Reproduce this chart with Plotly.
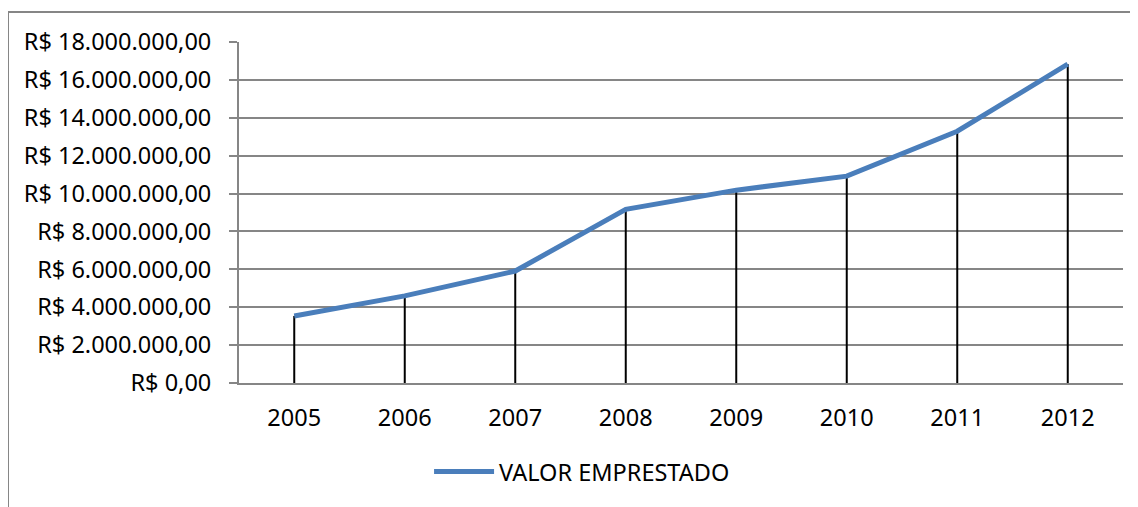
import plotly.graph_objects as go

# valor emprestado por ano
anos = ["2005", "2006", "2007", "2008", "2009", "2010", "2011", "2012"]
valores = [3540000, 4600000, 5910000, 9170000, 10180000, 10920000, 13290000, 16830000]
y_ticks = [0, 2000000, 4000000, 6000000, 8000000, 10000000, 12000000, 14000000, 16000000, 18000000]
y_labels = ["R$ 0,00", "R$ 2.000.000,00", "R$ 4.000.000,00", "R$ 6.000.000,00", "R$ 8.000.000,00",
            "R$ 10.000.000,00", "R$ 12.000.000,00", "R$ 14.000.000,00", "R$ 16.000.000,00",
            "R$ 18.000.000,00"]

GRAY = "#868686"
FONT = "Noto Sans"

# drop lines (linhas de projecao) from each point down to zero
drop_x, drop_y = [], []
for a, v in zip(anos, valores):
    drop_x += [a, a, None]
    drop_y += [0, v, None]

fig = go.Figure()
fig.add_trace(go.Scatter(x=drop_x, y=drop_y, mode="lines",
                         line=dict(color="black", width=2),
                         showlegend=False, hoverinfo="skip"))
fig.add_trace(go.Scatter(x=anos, y=valores, mode="lines", name="VALOR EMPRESTADO",
                         line=dict(color="#4a7ebb", width=5)))

# page body has an 8px margin, so the figure is a bit smaller and shifted
fig.update_layout(
    width=1130, height=499,
    margin=dict(l=231, r=15, t=34, b=124),
    plot_bgcolor="white", paper_bgcolor="white",
    font=dict(family=FONT, size=23.5, color="black"),
    showlegend=True,
    legend=dict(orientation="h", x=0.215, xanchor="left", y=-0.26, yanchor="middle",
                font=dict(family=FONT, size=23.5, color="black"), itemwidth=60),
    xaxis=dict(type="category", range=[-0.5, 7.5], showgrid=False,
               showline=True, linecolor=GRAY, linewidth=2, ticks="",
               ticklabelstandoff=13, zeroline=False),
    yaxis=dict(range=[0, 18000000], tickvals=y_ticks, ticktext=y_labels,
               showgrid=True, gridcolor=GRAY, gridwidth=1.5,
               showline=True, linecolor=GRAY, linewidth=2,
               ticks="outside", ticklen=8, tickcolor=GRAY, tickwidth=1.5,
               ticklabelstandoff=13, zeroline=False),
    shapes=[dict(type="rect", xref="paper", yref="paper",
                 x0=(8 - 239) / 884, x1=1.2, y0=-0.6, y1=(383.3 - 12) / 341.3,
                 line=dict(color=GRAY, width=2), fillcolor="rgba(0,0,0,0)", layer="below")],
)

fig.write_html("out.html")
